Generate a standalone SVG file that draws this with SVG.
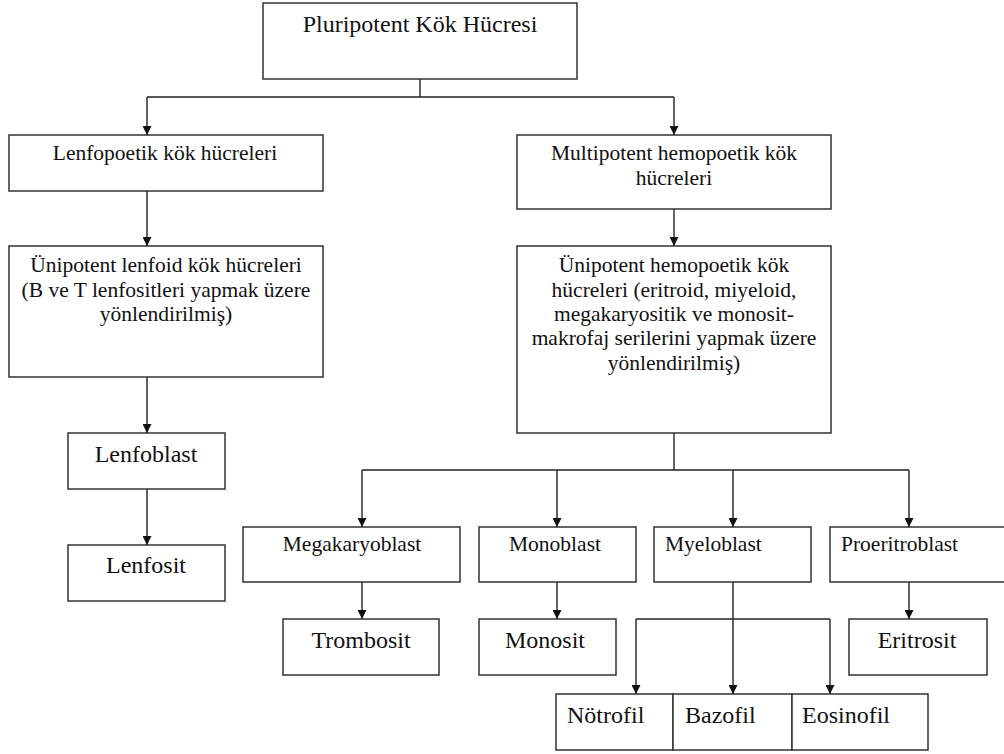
<svg xmlns="http://www.w3.org/2000/svg" width="1004" height="754" viewBox="0 0 1004 754">
<style>
.b{fill:#fff;stroke:#333;stroke-width:1.5}
.t{font-family:'Liberation Serif','DejaVu Serif',serif;font-size:21.5px;fill:#111}
.L{font-size:24px}
.c{text-anchor:middle}
.w{fill:none;stroke:#222;stroke-width:1.4}
</style>
<defs>
<marker id="ah" viewBox="0 0 10 10" refX="10" refY="5" markerWidth="10" markerHeight="9" markerUnits="userSpaceOnUse" orient="auto">
<path d="M0,0 L10,5 L0,10 z" fill="#111"/>
</marker>
</defs>
<rect width="1004" height="754" fill="#fff"/>
<g id="connectors" class="w">
<path d="M420,79 V97 M147,97 H674"/>
<path d="M147,97 V135" marker-end="url(#ah)"/>
<path d="M674,97 V135" marker-end="url(#ah)"/>
<path d="M147,191 V246" marker-end="url(#ah)"/>
<path d="M674,209 V246" marker-end="url(#ah)"/>
<path d="M147,377 V433" marker-end="url(#ah)"/>
<path d="M147,489 V545" marker-end="url(#ah)"/>
<path d="M674,433 V470 M362,470 H909"/>
<path d="M362,470 V527" marker-end="url(#ah)"/>
<path d="M557,470 V527" marker-end="url(#ah)"/>
<path d="M733,470 V527" marker-end="url(#ah)"/>
<path d="M909,470 V527" marker-end="url(#ah)"/>
<path d="M362,582 V619" marker-end="url(#ah)"/>
<path d="M557,582 V619" marker-end="url(#ah)"/>
<path d="M909,582 V619" marker-end="url(#ah)"/>
<path d="M636,619 H830"/>
<path d="M733,582 V694" marker-end="url(#ah)"/>
<path d="M636,619 V694" marker-end="url(#ah)"/>
<path d="M830,619 V694" marker-end="url(#ah)"/>
</g>
<g id="pluripotent"><rect class="b" x="263" y="3" width="314" height="76"/><text class="t L c" x="420" y="32" font-family="Liberation Serif">Pluripotent Kök Hücresi</text></g>
<g id="lenfopoetik"><rect class="b" x="9" y="135" width="314" height="56"/><text class="t c" x="165" y="160">Lenfopoetik kök hücreleri</text></g>
<g id="multipotent"><rect class="b" x="517" y="135" width="314" height="74"/><text class="t c" x="674" y="160">Multipotent hemopoetik kök</text><text class="t c" x="674" y="185">hücreleri</text></g>
<g id="unipotent-lenfoid"><rect class="b" x="9" y="246" width="314" height="131"/>
<text class="t c" x="166" y="272">Ünipotent lenfoid kök hücreleri</text>
<text class="t c" x="166" y="297">(B ve T lenfositleri yapmak üzere</text>
<text class="t c" x="166" y="321">yönlendirilmiş)</text></g>
<g id="unipotent-hemopoetik"><rect class="b" x="517" y="246" width="314" height="187"/>
<text class="t c" x="674" y="272">Ünipotent hemopoetik kök</text>
<text class="t c" x="674" y="297">hücreleri (eritroid, miyeloid,</text>
<text class="t c" x="674" y="321">megakaryositik ve monosit-</text>
<text class="t c" x="674" y="345">makrofaj serilerini yapmak üzere</text>
<text class="t c" x="674" y="370">yönlendirilmiş)</text></g>
<g id="lenfoblast"><rect class="b" x="68" y="433" width="157" height="56"/><text class="t L c" x="146" y="462">Lenfoblast</text></g>
<g id="lenfosit"><rect class="b" x="68" y="545" width="157" height="56"/><text class="t L c" x="146" y="573">Lenfosit</text></g>
<g id="megakaryoblast"><rect class="b" x="243" y="527" width="217" height="55"/><text class="t c" x="352" y="551">Megakaryoblast</text></g>
<g id="monoblast"><rect class="b" x="479" y="527" width="157" height="55"/><text class="t c" x="555" y="551">Monoblast</text></g>
<g id="myeloblast"><rect class="b" x="654" y="527" width="157" height="55"/><text class="t" x="665" y="551">Myeloblast</text></g>
<g id="proeritroblast"><rect class="b" x="830" y="527" width="178" height="55"/><text class="t" x="841" y="551">Proeritroblast</text></g>
<g id="trombosit"><rect class="b" x="283" y="619" width="156" height="56"/><text class="t L c" x="361" y="648">Trombosit</text></g>
<g id="monosit"><rect class="b" x="479" y="619" width="137" height="56"/><text class="t L c" x="545" y="648">Monosit</text></g>
<g id="eritrosit"><rect class="b" x="849" y="619" width="138" height="56"/><text class="t L c" x="917" y="648">Eritrosit</text></g>
<g id="notrofil"><rect class="b" x="556" y="694" width="117" height="56"/><text class="t L" x="567" y="723">Nötrofil</text></g>
<g id="bazofil"><rect class="b" x="673" y="694" width="119" height="56"/><text class="t L" x="685" y="723">Bazofil</text></g>
<g id="eosinofil"><rect class="b" x="792" y="694" width="136" height="56"/><text class="t L" x="802" y="723">Eosinofil</text></g>
</svg>
